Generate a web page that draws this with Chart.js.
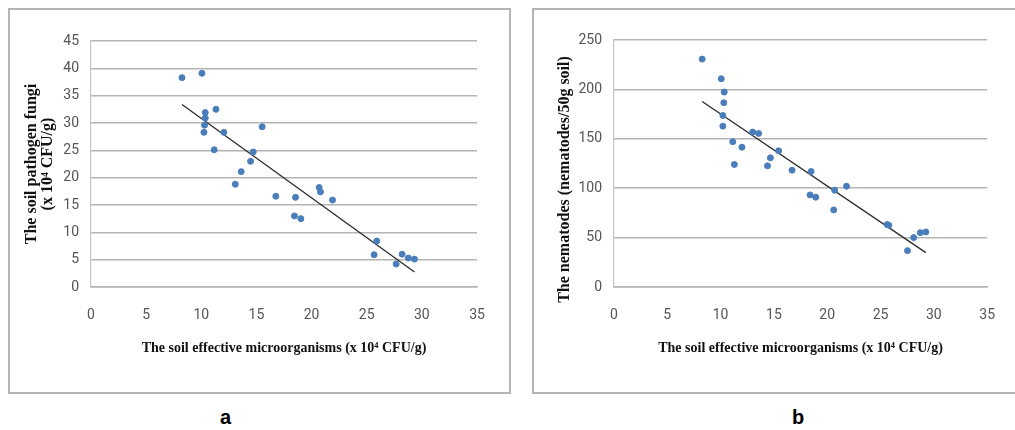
<!DOCTYPE html>
<html>
<head>
<meta charset="utf-8">
<script src="https://cdn.jsdelivr.net/npm/chart.js@4.4.1/dist/chart.umd.min.js"></script>
<style>
  body { margin: 0; background: #fff; width: 1015px; height: 430px; position: relative; overflow: hidden; }
  canvas { position: absolute; }
  .frame { position: absolute; border: 2px solid #b4b4b4; box-sizing: border-box; pointer-events: none; }
  .tag { position: absolute; font: bold 20px 'Liberation Sans', Arial, sans-serif; color: #000; }
</style>
</head>
<body>
<canvas id="chartA" width="502" height="385" style="left:8px;top:8px"></canvas>
<canvas id="chartB" width="482" height="385" style="left:533px;top:8px"></canvas>
<div class="frame" style="left:8px;top:8px;width:503px;height:386px"></div>
<div class="frame" style="left:532px;top:8px;width:500px;height:386px"></div>
<div class="tag" style="left:220px;top:406px">a</div>
<div class="tag" style="left:792px;top:406px">b</div>

<script>
// panel a: soil pathogen fungi vs effective microorganisms
const fungiX = [8.25, 10.06, 10.36, 10.36, 10.3, 10.24, 11.33, 11.17, 12.05, 15.52, 14.71, 14.47, 13.62, 13.08,
  16.76, 18.54, 18.45, 19.03, 20.69, 20.81, 21.9, 25.91, 25.67, 27.67, 28.21, 28.78, 29.33];
const fungiY = [38.3, 39.1, 31.9, 30.9, 29.6, 28.3, 32.5, 25.1, 28.3, 29.3, 24.7, 23.0, 21.1, 18.8,
  16.6, 16.4, 13.0, 12.5, 18.2, 17.4, 15.9, 8.4, 5.9, 4.2, 6.0, 5.3, 5.1];
const fungiTrendX = [8.25, 29.33];
const fungiTrendY = [33.4, 2.75];

// panel b: nematodes vs effective microorganisms
const nemaX = [8.27, 10.06, 10.34, 10.3, 10.21, 10.21, 11.14, 11.29, 12.0, 13.01, 13.57, 15.44, 14.67, 14.4,
  16.7, 18.49, 18.39, 18.92, 20.7, 20.61, 21.81, 25.62, 25.78, 27.53, 28.11, 28.73, 29.25];
const nemaY = [230.7, 210.8, 197.3, 186.5, 173.6, 162.8, 147, 124, 141.5, 156.8, 155.4, 137.8, 130.7, 122.6,
  118.2, 116.9, 93.2, 90.9, 98, 78, 102, 63.2, 62.5, 36.8, 50, 55, 55.7];
const nemaTrendX = [8.27, 29.25];
const nemaTrendY = [187.8, 34.8];

const xTitle = 'The soil effective microorganisms (x 10\u2074 CFU/g)';
const fungiTitle = ['The soil pathogen fungi', '(x 10\u2074 CFU/g)'];
const nemaTitle = 'The nematodes (nematodes/50g soil)' + '        ';

const tickFont = { family: "'Liberation Sans Narrow', 'Roboto', sans-serif", size: 14 };
const xTitleFont = { family: "'Liberation Serif', 'DejaVu Serif', serif", size: 14, weight: 'bold', lineHeight: 1.15 };
const yTitleFont = { family: "'Liberation Serif', 'DejaVu Serif', serif", size: 16, weight: 'bold', lineHeight: 1.0 };

function pts(xs, ys) {
  return xs.map((x, i) => ({ x: x, y: ys[i] }));
}

function makeChart(id, o) {
  new Chart(document.getElementById(id), {
    type: 'scatter',
    data: {
      datasets: [{
        data: pts(o.xs, o.ys),
        backgroundColor: '#4a7ebb',
        borderColor: '#4a7ebb',
        pointRadius: 3,
        pointHoverRadius: 3
      }, {
        type: 'line',
        data: pts(o.tx, o.ty),
        borderColor: '#2b2b2b',
        borderWidth: 1.3,
        pointRadius: 0,
        fill: false
      }]
    },
    options: {
      responsive: false,
      animation: false,
      layout: { padding: { left: 0, top: o.top, right: o.right, bottom: 0 } },
      plugins: { legend: { display: false }, tooltip: { enabled: false } },
      scales: {
        x: {
          min: 0, max: 35,
          ticks: { stepSize: 5, padding: 20, color: '#555', font: tickFont, maxRotation: 0 },
          grid: { display: false, drawTicks: false },
          border: { color: '#b4b4b4', width: 1.5 },
          title: { display: true, text: xTitle, color: '#111', font: xTitleFont, padding: { top: 0, bottom: 37 } },
          afterFit: s => { s.height = 106; }
        },
        y: {
          min: 0, max: o.ymax,
          ticks: { stepSize: o.ystep, padding: 12, color: '#555', font: tickFont },
          grid: { color: '#b4b4b4', lineWidth: 1.5, drawTicks: false },
          border: { color: '#c4c4c4', width: 1.2 },
          title: { display: true, text: o.ytitle, color: '#111', font: yTitleFont, padding: { top: o.ypad, bottom: 0 } },
          afterFit: s => { s.width = o.left; }
        }
      }
    }
  });
}

makeChart('chartA', { xs: fungiX, ys: fungiY, tx: fungiTrendX, ty: fungiTrendY,
  ymax: 45, ystep: 5, ytitle: fungiTitle, ypad: 16, left: 83, top: 33, right: 33 });
makeChart('chartB', { xs: nemaX, ys: nemaY, tx: nemaTrendX, ty: nemaTrendY,
  ymax: 250, ystep: 50, ytitle: nemaTitle, ypad: 24, left: 81, top: 32, right: 22 });
</script>
</body>
</html>
